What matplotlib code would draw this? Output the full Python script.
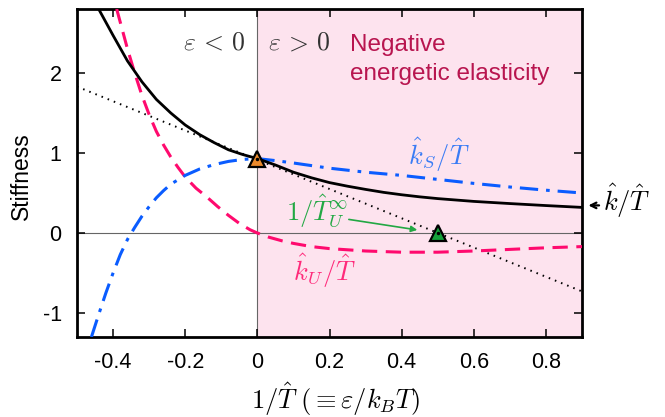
import matplotlib
matplotlib.use("Agg")
import matplotlib.pyplot as plt

# total stiffness k/T (black solid)
k_x = [-0.44, -0.40, -0.36, -0.32, -0.28, -0.24, -0.20, -0.16, -0.12, -0.08, -0.04, 0.00,
       0.05, 0.10, 0.15, 0.20, 0.25, 0.30, 0.35, 0.40, 0.45, 0.50, 0.60, 0.70, 0.80, 0.90]
k_y = [2.80, 2.47, 2.15, 1.89, 1.67, 1.50, 1.35, 1.23, 1.13, 1.04, 0.98, 0.93,
       0.85, 0.76, 0.69, 0.63, 0.585, 0.545, 0.508, 0.478, 0.452, 0.43, 0.395, 0.368, 0.343, 0.32]

# entropic part kS/T (blue dash-dot)
ks_x = [-0.46, -0.44, -0.42, -0.40, -0.38, -0.36, -0.34, -0.32, -0.30, -0.28, -0.26, -0.24,
        -0.20, -0.16, -0.12, -0.08, -0.04, 0.00, 0.05, 0.10, 0.20, 0.30, 0.40, 0.50,
        0.60, 0.70, 0.80, 0.90]
ks_y = [-1.30, -1.02, -0.75, -0.50, -0.27, -0.08, 0.07, 0.21, 0.33, 0.44, 0.53, 0.61,
        0.72, 0.80, 0.855, 0.895, 0.92, 0.93, 0.905, 0.875, 0.81, 0.76, 0.72, 0.67,
        0.62, 0.575, 0.535, 0.50]

# energetic part kU/T (magenta dashed)
ku_x = [-0.39, -0.36, -0.34, -0.32, -0.30, -0.28, -0.26, -0.24, -0.22, -0.20, -0.17, -0.14,
        -0.11, -0.08, -0.05, -0.02, 0.00, 0.03, 0.07, 0.10, 0.15, 0.20, 0.30, 0.40,
        0.50, 0.60, 0.70, 0.80, 0.90]
ku_y = [2.80, 2.30, 2.00, 1.72, 1.48, 1.27, 1.10, 0.95, 0.82, 0.70, 0.56, 0.45,
        0.33, 0.22, 0.12, 0.04, 0.00, -0.05, -0.10, -0.13, -0.17, -0.195, -0.225, -0.24,
        -0.24, -0.225, -0.205, -0.185, -0.17]

# tangent at 1/T = 0 (black dotted)
tan_x = [-0.5, 0.9]
tan_y = [1.83, -0.73]

peak_pt = (0.0, 0.93)
zero_pt = (0.5, 0.0)

plt.rcParams['font.family'] = 'Liberation Sans'
plt.rcParams['mathtext.fontset'] = 'cm'
plt.rcParams['axes.unicode_minus'] = False

fig = plt.figure(figsize=(6.65, 4.17), dpi=100)
ax = fig.add_axes([77 / 665, 1 - 337 / 417, 505 / 665, 328 / 417])

ax.axvspan(0, 0.9, color='#fde3ee', lw=0, zorder=0)
ax.axvline(0, color='#666666', lw=0.8, zorder=1)
ax.axhline(0, color='#666666', lw=0.8, zorder=1)

ax.plot(tan_x, tan_y, color='black', lw=1.4, ls=(0, (0.8, 2.6)), zorder=2)
ax.plot(ku_x, ku_y, color='#ff0a6e', lw=2.2, ls=(0, (5, 2.8)), zorder=3)
ax.plot(ks_x, ks_y, color='#0a5cff', lw=2.2, ls=(0, (6, 2.6, 1.2, 2.6)), zorder=3)
ax.plot(k_x, k_y, color='black', lw=2.0, zorder=4)

ax.plot(*peak_pt, marker='^', ms=11, mfc='#ec8a2c', mec='black', mew=1.6, zorder=6)
ax.plot(*zero_pt, marker='^', ms=11, mfc='#14a23a', mec='black', mew=1.6, zorder=6)
ax.plot(*peak_pt, marker='o', ms=1.5, color='black', zorder=7)
ax.plot(*zero_pt, marker='o', ms=1.5, color='black', zorder=7)

ax.set_xlim(-0.5, 0.9)
ax.set_ylim(-1.3, 2.8)
ax.set_xticks([-0.4, -0.2, 0, 0.2, 0.4, 0.6, 0.8])
ax.set_xticklabels(['-0.4', '-0.2', '0', '0.2', '0.4', '0.6', '0.8'])
ax.set_yticks([-1, 0, 1, 2])
ax.tick_params(direction='in', top=True, right=True, length=6, width=1.1,
               labelsize=15.5, pad=11)
for s in ax.spines.values():
    s.set_linewidth(2.0)

mfs = 19
ax.text(-0.121, 2.29, r'$\varepsilon\,<\,0$', fontsize=18.5, ha='center', va='baseline', color='#333333')
ax.text(0.115, 2.29, r'$\varepsilon\,>\,0$', fontsize=18.5, ha='center', va='baseline', color='#333333')
ax.text(0.257, 2.27, 'Negative', fontsize=17.5, ha='left', va='baseline', color='#b8154f')
ax.text(0.257, 1.916, 'energetic elasticity', fontsize=17.5, ha='left', va='baseline', color='#b8154f')

ax.text(0.502, 0.855, r'$\hat{k}_S/\hat{T}$', fontsize=mfs, ha='center', va='baseline', color='#3a7cf5')
ax.text(0.185, -0.605, r'$\hat{k}_U/\hat{T}$', fontsize=mfs, ha='center', va='baseline', color='#ff2a7a')
ax.text(0.167, 0.145, r'$1/\hat{T}_U^{\infty}$', fontsize=mfs, ha='center', va='baseline', color='#22a844')
ax.annotate('', xy=(0.451, 0.033), xytext=(0.246, 0.175),
            arrowprops=dict(arrowstyle='-|>', color='#22a844', lw=1.2, mutation_scale=9))

ax.annotate('', xy=(0.91, 0.345), xytext=(0.955, 0.345), annotation_clip=False,
            arrowprops=dict(arrowstyle='->', color='black', lw=1.6, mutation_scale=10))
ax.text(0.958, 0.27, r'$\hat{k}/\hat{T}$', fontsize=mfs, ha='left', va='baseline', clip_on=False)

fig.text(21.7 / 665, 1 - 176 / 417, 'Stiffness', rotation=90, fontsize=16.5, ha='center', va='center')
fig.text(336 / 665, 1 - 409 / 417, r'$1/\hat{T}\ (\equiv \varepsilon/k_BT)$', fontsize=mfs,
         ha='center', va='baseline')

fig.savefig('out.png', dpi=100)
